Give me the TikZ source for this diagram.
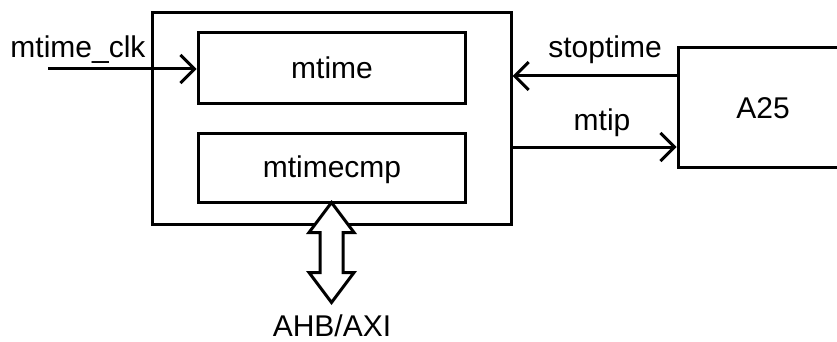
\documentclass[tikz,border=0pt]{standalone}
\usepackage{fontspec}
\setmainfont{Liberation Sans}
\usetikzlibrary{arrows.meta}
\begin{document}
\begin{tikzpicture}[x=1pt,y=-1pt,
  line width=3pt,
  box/.style={draw,line width=3pt,rectangle,inner sep=0pt},
  sig/.style={draw,line width=3pt,-{Straight Barb[length=14pt,width=28pt,line width=3pt]}},
  lbl/.style={font=\fontsize{30}{34}\selectfont,inner sep=0pt,anchor=base}]
\useasboundingbox (0,0) rectangle (837,342);
% timer block and its registers
\node[box,minimum width=359pt,minimum height=211.5pt] (outer) at (331.5,118.25) {};
\node[box,minimum width=267pt,minimum height=71pt] (mtime) at (331.5,68.5) {};
\node[box,minimum width=267pt,minimum height=69pt] (mtimecmp) at (331.5,167.5) {};
\node[lbl] (tmtime) at (332,79) {mtime};
\node[lbl] (tmtimecmp) at (332,177) {mtimecmp};
% core block, running past the right edge
\node[box,minimum width=172pt,minimum height=119pt] (core) at (764,107.5) {};
\node[lbl] (tcore) at (763,118) {A25};
% clock input
\coordinate (clk) at (48,69);
\draw[sig] (clk) -- (clk -| mtime.west);
\node[lbl] (tclk) at (78,58) {mtime\_clk};
% signals between timer and core
\coordinate (stop) at (0,76);
\coordinate (tip) at (0,147);
\draw[sig] (stop -| core.west) -- (stop -| outer.east);
\draw[sig] (tip -| outer.east) -- (tip -| core.west);
\node[lbl] (tstop) at (605,58) {stoptime};
\node[lbl] (ttip) at (602,130) {mtip};
% bus port
\coordinate (bus) at (mtimecmp.south);
\draw[line width=3pt,fill=white,line join=miter]
  ([yshift=1pt]bus) -- ++(22.5,30) -- ++(-11,0) -- ++(0,40) -- ++(11,0)
  -- ++(-22.5,30) -- ++(-22.5,-30) -- ++(11,0) -- ++(0,-40) -- ++(-11,0) -- cycle;
\node[lbl] (tbus) at (332,336) {AHB/AXI};
\end{tikzpicture}
\end{document}
